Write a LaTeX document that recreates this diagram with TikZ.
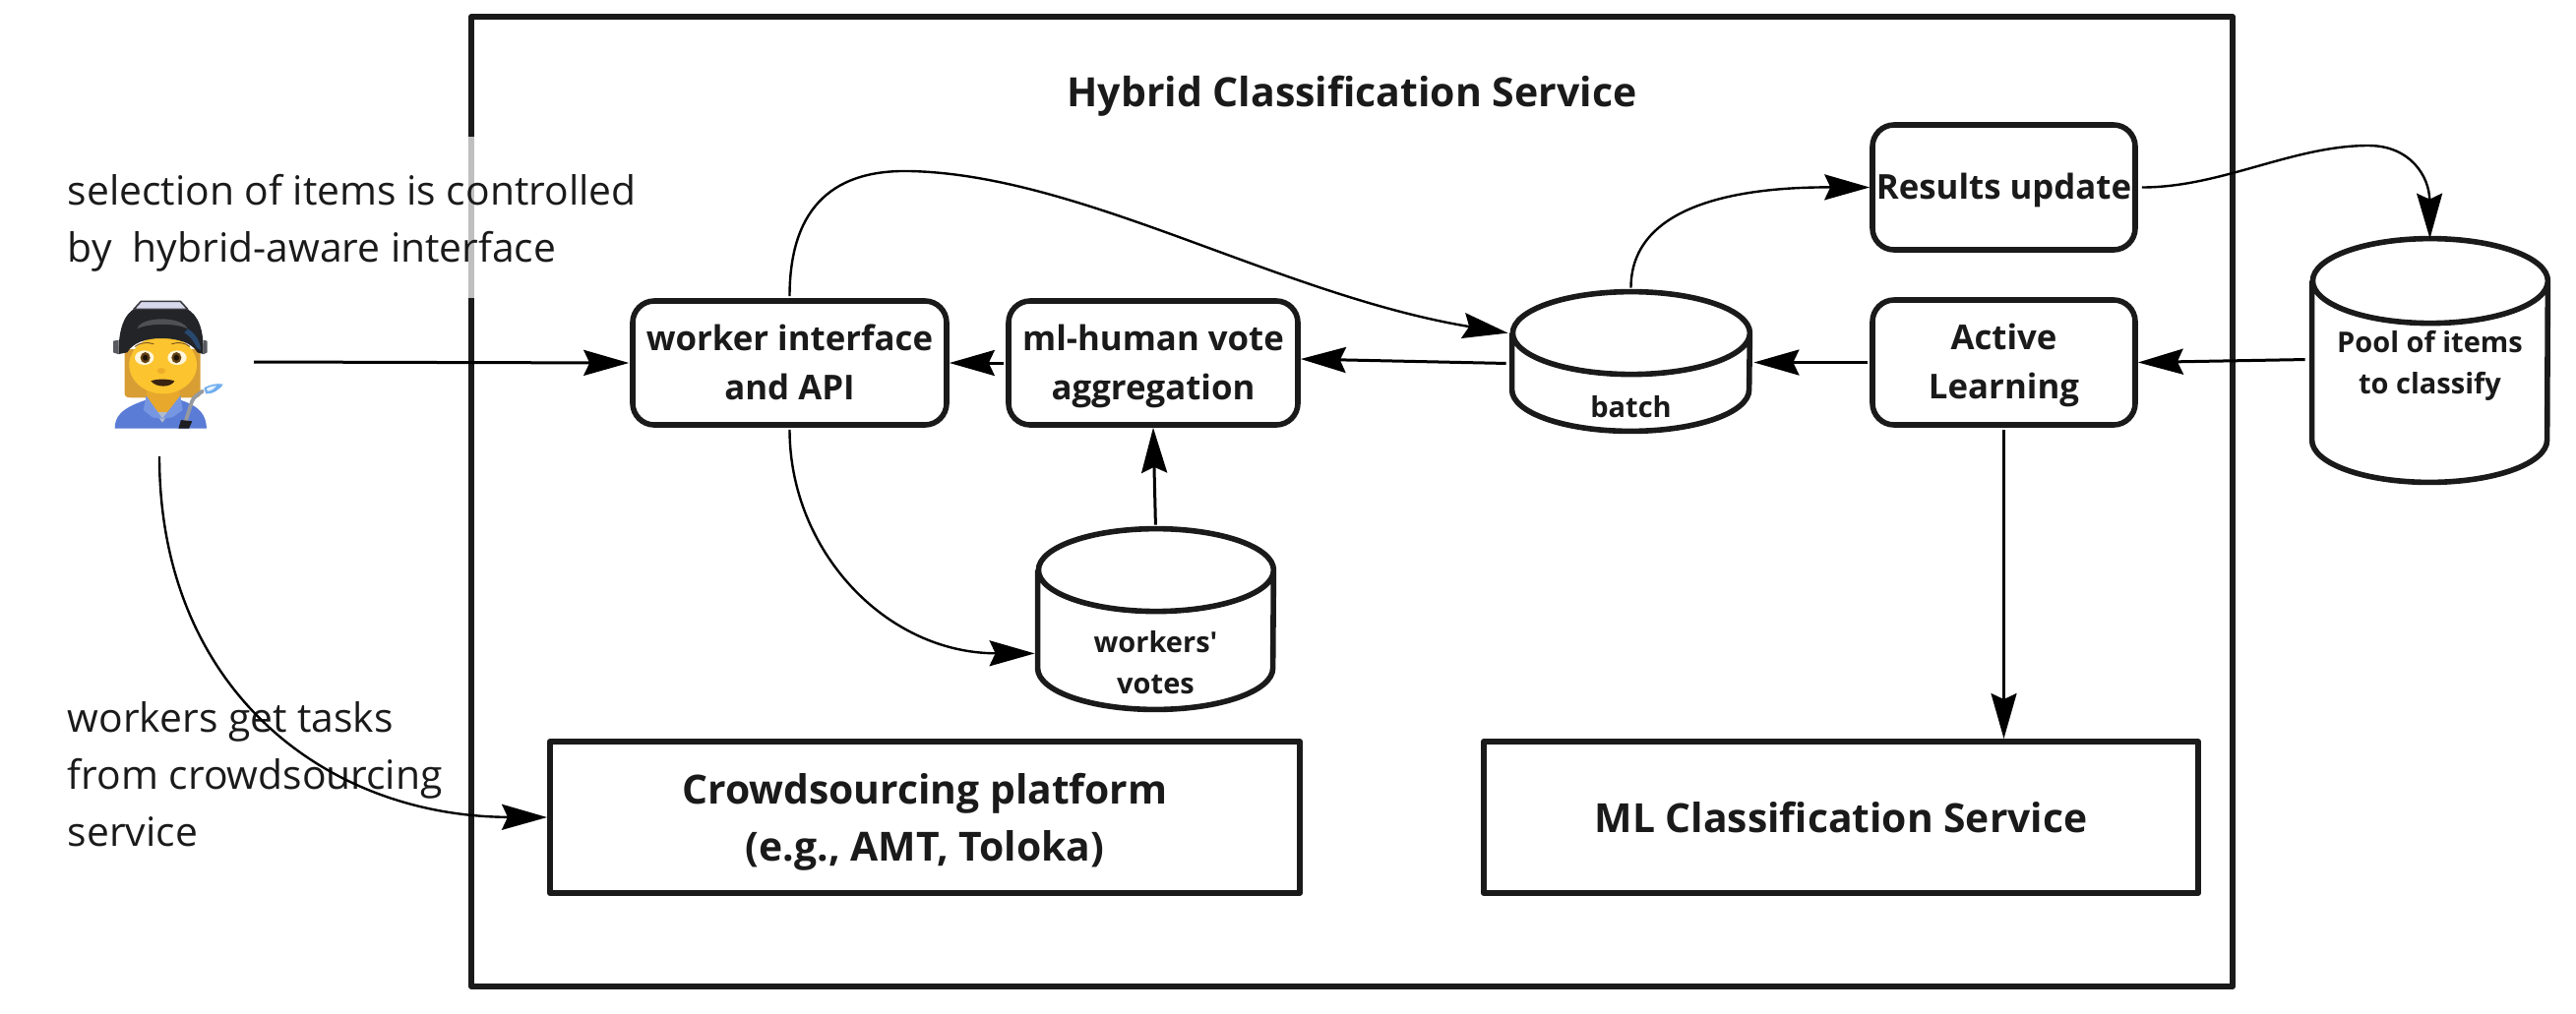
\documentclass[tikz,border=0pt]{standalone}
\usepackage{fontspec}
\setmainfont{Open Sans}
\usetikzlibrary{arrows.meta,calc}
\definecolor{ink}{HTML}{1A1A1A}
\newlength{\pxu}\setlength{\pxu}{0.5pt}
\tikzset{
 x=0.5pt,y=-0.5pt,
 boxline/.style={draw=ink,line width=2.8pt,line join=round},
 rbox/.style={boxline,rounded corners=11pt,inner sep=0pt,align=center,text=ink,font=\fontsize{17.4}{25}\selectfont\bfseries},
 sbox/.style={boxline,line width=3pt,inner sep=0pt,align=center,text=ink,font=\fontsize{20.4}{29}\selectfont\bfseries},
 cylbox/.style={inner sep=0pt,text=ink,font=\fontsize{14.5}{21}\selectfont\bfseries},
 captext/.style={anchor=west,align=left,inner sep=0pt,text=ink,font=\fontsize{20.4}{29}\selectfont},
 arr/.style={draw=black,line width=1.5pt,shorten >=0pt,shorten <=1pt,-{Stealth[length=23pt,width=13pt,inset=3pt]}},
 thinarr/.style={arr,line width=1.2pt},
}
\newcommand{\cylshape}[3]{% name, rx, ry
 \draw[boxline,fill=none] ($(#1.north west)+(0,#3)$) -- ($(#1.south west)+(0,-#3)$)
   arc[start angle=180,end angle=0,x radius=#2,y radius=#3]
   -- ($(#1.north east)+(0,#3)$)
   arc[start angle=0,end angle=-180,x radius=#2,y radius=#3]
   arc[start angle=180,end angle=0,x radius=#2,y radius=#3];}
\newcommand{\lowtext}[2]{\smash{\raisebox{#1}{\begin{tabular}{@{}c@{}}#2\end{tabular}}}}
\begin{document}
\begin{tikzpicture}
\useasboundingbox (0,0) rectangle (2618,1030);
% outer frame
\node[sbox,minimum width=1790\pxu,minimum height=986\pxu] (frame) at (1374,510) {};
\coordinate (gapA) at (479,139);
\coordinate (gapB) at (479,303);
\draw[draw=white,line width=3.4pt] (gapA) -- (gapB);
\draw[draw=ink!28,line width=3pt] (gapA) -- (gapB);
\node[text=ink,inner sep=0pt,font=\fontsize{20.5}{25}\selectfont\bfseries] (title) at (1374,98) {Hybrid Classification Service};
% captions
\node[captext] (cap1) at (68.5,227) {selection of items is controlled\\by\ \ hybrid-aware interface};
\node[captext] (cap2) at (68.5,787) {workers get tasks\\from crowdsourcing\\service};
% rounded boxes
\node[rbox,minimum width=319\pxu,minimum height=126\pxu] (wi) at (802.5,369) {\lowtext{-5.5pt}{worker interface\\and API}};
\node[rbox,minimum width=294\pxu,minimum height=126\pxu] (ml) at (1172,369) {\lowtext{-5.5pt}{ml-human vote\\aggregation}};
\node[rbox,minimum width=267\pxu,minimum height=127\pxu] (res) at (2036.5,190.5) {\lowtext{-5.5pt}{Results update}};
\node[rbox,minimum width=267\pxu,minimum height=127\pxu] (al) at (2036.5,368.5) {\lowtext{-5.5pt}{Active\\Learning}};
% square boxes
\node[sbox,minimum width=762\pxu,minimum height=154\pxu] (cs) at (940,831) {\lowtext{-7pt}{Crowdsourcing platform\\(e.g., AMT, Toloka)}};
\node[sbox,minimum width=726\pxu,minimum height=154\pxu] (mlc) at (1871,831) {\lowtext{-7pt}{ML Classification Service}};
% cylinders
\node[cylbox,minimum width=241\pxu,minimum height=141\pxu] (batch) at (1657.5,367.5) {\lowtext{-28pt}{batch}};
\node[cylbox,minimum width=239\pxu,minimum height=247\pxu] (pool) at (2469.5,366.5) {\lowtext{-6pt}{Pool of items\\to classify}};
\node[cylbox,minimum width=239\pxu,minimum height=183\pxu] (votes) at (1174.5,629.5) {\lowtext{-27pt}{workers\textquotesingle\\votes}};
\cylshape{batch}{120.5}{42}
\cylshape{pool}{119.5}{43}
\cylshape{votes}{119.5}{42}
% worker figure
\begin{scope}[shift={(100,295)},x=0.16667pt,y=-0.16667pt]
 % hair
 \fill[fill={rgb,255:red,216;green,158;blue,52}] (80,180) -- (80,315) .. controls (80,325) and (88,328) .. (100,328) -- (292,328) .. controls (305,328) and (311,325) .. (311,315) -- (311,180) -- cycle;
 % shirt
 \fill[fill={rgb,255:red,90;green,124;blue,214}] (50,422) .. controls (50,385) and (70,360) .. (145,335) -- (250,335) .. controls (310,355) and (328,380) .. (330,422) -- cycle;
 % neck
 \fill[fill={rgb,255:red,232;green,168;blue,44}] (147,300) -- (247,300) -- (247,340) -- (197,392) -- (147,340) -- cycle;
 % undershirt
 \fill[fill={rgb,255:red,176;green,186;blue,204}] (172,372) -- (218,372) -- (195,404) -- cycle;
 % collar
 \fill[fill={rgb,255:red,118;green,150;blue,226}] (146,322) -- (137,366) -- (165,388) -- (195,392) -- cycle;
 \fill[fill={rgb,255:red,118;green,150;blue,226}] (250,322) -- (257,366) -- (226,388) -- (195,392) -- cycle;
 % face
 \fill[fill={rgb,255:red,252;green,197;blue,47}] (197,228) ellipse[x radius=103,y radius=88];
 % brows
 \draw[draw={rgb,255:red,130;green,90;blue,30},line width=0.5pt,line cap=round] (112,172) .. controls (125,160) and (150,158) .. (168,164);
 \draw[draw={rgb,255:red,130;green,90;blue,30},line width=0.5pt,line cap=round] (224,164) .. controls (242,158) and (265,160) .. (278,172);
 % eyes
 \fill[fill={rgb,255:red,255;green,246;blue,220}] (140,206) ellipse[x radius=29,y radius=22];
 \fill[fill={rgb,255:red,255;green,246;blue,220}] (240,206) ellipse[x radius=29,y radius=22];
 \fill[fill={rgb,255:red,100;green,66;blue,20}] (143,206) ellipse[x radius=15,y radius=17];
 \fill[fill={rgb,255:red,100;green,66;blue,20}] (238,206) ellipse[x radius=15,y radius=17];
 \fill[fill={rgb,255:red,30;green,20;blue,10}] (143,206) ellipse[x radius=8,y radius=9];
 \fill[fill={rgb,255:red,30;green,20;blue,10}] (238,206) ellipse[x radius=8,y radius=9];
 % nose
 \fill[fill={rgb,255:red,238;green,172;blue,40}] (192,246) ellipse[x radius=13,y radius=9];
 % mouth
 \fill[fill={rgb,255:red,58;green,36;blue,18}] (160,277) .. controls (180,270) and (210,270) .. (232,277) .. controls (222,298) and (175,298) .. (160,277) -- cycle;
 % helmet
 \fill[fill={rgb,255:red,34;green,36;blue,40}] (62,195) .. controls (60,120) and (80,70) .. (112,56) -- (268,56) .. controls (305,75) and (322,120) .. (320,195) -- (302,190) .. controls (285,160) and (240,147) .. (192,147) .. controls (145,147) and (105,160) .. (88,190) -- cycle;
 \fill[fill={rgb,255:red,78;green,80;blue,84}] (118,118) .. controls (130,78) and (255,78) .. (272,118) .. controls (240,100) and (150,100) .. (118,118) -- cycle;
 \fill[fill={rgb,255:red,40;green,72;blue,110}] (272,118) .. controls (295,130) and (310,155) .. (312,182) -- (300,175) .. controls (290,155) and (280,140) .. (262,130) -- cycle;
 \fill[fill={rgb,255:red,88;green,90;blue,96}] (45,155) -- (62,152) -- (62,196) -- (45,190) -- cycle;
 \fill[fill={rgb,255:red,88;green,90;blue,96}] (320,152) -- (332,155) -- (332,190) -- (320,196) -- cycle;
 % window
 \filldraw[fill={rgb,255:red,216;green,216;blue,236},draw={rgb,255:red,60;green,60;blue,66},line width=0.8pt,line join=round] (130,34) -- (250,34) -- (272,58) -- (108,58) -- cycle;
 % torch
 \draw[draw={rgb,255:red,150;green,154;blue,160},line width=1.9pt,line cap=round] (266,400) -- (285,340) .. controls (290,325) and (305,318) .. (318,308);
 \fill[fill={rgb,255:red,30;green,30;blue,34}] (244,422) -- (252,396) -- (286,400) -- (276,422) -- cycle;
 \fill[fill={rgb,255:red,112;green,174;blue,240}] (322,298) .. controls (340,288) and (362,283) .. (380,287) .. controls (370,305) and (345,318) .. (328,316) -- cycle;
 \fill[fill={rgb,255:red,232;green,242;blue,252}] (330,300) .. controls (340,294) and (352,292) .. (360,292) .. controls (352,302) and (342,308) .. (333,308) -- cycle;
\end{scope}
\coordinate (workerE) at (258,368);
\coordinate (workerS) at (162,464);
% connectors
\draw[arr,shorten <=0pt,shorten >=0.5pt] (workerE) -- (wi.west);
\draw[thinarr,shorten <=0pt] (workerS) .. controls +(0,236) and (330,830) .. (cs.west);
\draw[arr] (ml.west) -- (wi.east);
\draw[arr] ([shift={(-2pt,-1pt)}]batch.west) -- ([yshift=2pt]ml.east);
\draw[thinarr] (wi.north) .. controls +(0,-85) and (840,172) .. (925,174) .. controls (1100,178) and (1300,300) .. ($(batch.north west)+(-4,42)$);
\draw[thinarr] (wi.south) .. controls +(0,125) and (900,664) .. ($(votes.south west)+(-3,-57)$);
\draw[arr,shorten <=2pt] (votes.north) -- (ml.south);
\draw[arr] (al.west) -- ([shift={(2pt,-0.5pt)}]batch.east);
\draw[arr] ([shift={(-2.5pt,0.5pt)}]pool.west) -- (al.east);
\draw[thinarr] (al.south) -- (mlc.north -| al.south);
\draw[thinarr,shorten <=2pt] (batch.north) .. controls +(0,-77) and (1740,190) .. (res.west);
\draw[thinarr,shorten <=2pt] (res.east) .. controls +(85,0) and (2330,148) .. (2407,148) .. controls (2450,148) and (2469,180) .. (pool.north);
\end{tikzpicture}
\end{document}
